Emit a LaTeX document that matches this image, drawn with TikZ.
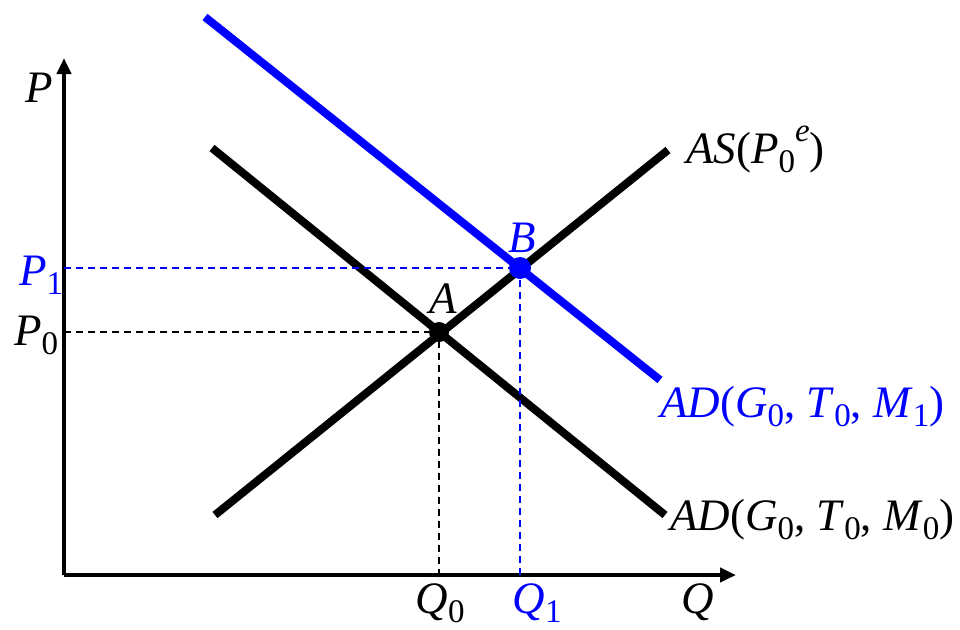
\documentclass[tikz,border=0pt]{standalone}
\usepackage{fontspec}
\setmainfont{Liberation Serif}
\usetikzlibrary{arrows.meta}
\definecolor{shiftblue}{RGB}{0,0,255}
\newcommand{\lowsub}[1]{\raisebox{-9pt}{\fontsize{33}{35}\selectfont #1}}
\newcommand{\highsup}[1]{\raisebox{22pt}{\fontsize{33}{35}\selectfont\textit{#1}}}
\tikzset{
  curve/.style={line width=8pt, line cap=butt},
  axis/.style={line width=4pt, -{Triangle[width=14pt,length=16pt]}},
  guide/.style={line width=1.5pt, dash pattern=on 7pt off 5pt},
  eqpt/.style={circle, fill, inner sep=0pt, minimum size=#1},
  lbl/.style={inner sep=0pt, font=\fontsize{45}{52}\selectfont},
}

\begin{document}
\begin{tikzpicture}[x=1pt, y=-1pt]
  %% ════ 坐标轴 ════
  \coordinate (O) at (64,575);
  \coordinate (ytip) at (64,58);
  \coordinate (xtip) at (736,575);
  \draw[axis] (O) -- (ytip);
  \draw[axis] (O) -- (xtip);
  \node[lbl, anchor=base west] (plab) at (25,102) {\textit{P}};
  \node[lbl, anchor=base west] (qlab) at (681,613) {\textit{Q}};

  %% ════ 三条线 ════
  \coordinate (as0) at (215,515);
  \coordinate (as1) at (668,150);
  \coordinate (ad0a) at (212,148);
  \coordinate (ad0b) at (665,515);
  \coordinate (ad1a) at (205,17);
  \coordinate (ad1b) at (660,380);
  \draw[curve] (as0) -- (as1);
  \draw[curve] (ad0a) -- (ad0b);
  \draw[curve, shiftblue] (ad1a) -- (ad1b);

  %% ════ 均衡点 + 虚线 ════
  \coordinate (p0ax) at (64,332);
  \coordinate (q0ax) at (439,575);
  \coordinate (p1ax) at (64,268);
  \coordinate (q1ax) at (520,575);
  \draw[guide] (p0ax) -- (439,332) -- (q0ax);
  \draw[guide, shiftblue] (p1ax) -- (520,268) -- (q1ax);
  \node[eqpt=20pt] (A) at (439,332) {};
  \node[eqpt=22pt, shiftblue] (B) at (520,268) {};

  %% ════ 标签 ════
  \node[lbl, anchor=base] (alab) at (443,313) {\textit{A}};
  \node[lbl, anchor=base, shiftblue] (blab) at (522,252) {\textit{B}};
  \node[lbl, anchor=base west, shiftblue] (plone) at (19,285) {\textit{P}\lowsub{1}};
  \node[lbl, anchor=base west] (plzero) at (14,345) {\textit{P}\lowsub{0}};
  \node[lbl, anchor=base] (qlzero) at (440,613) {\textit{Q}\lowsub{0}};
  \node[lbl, anchor=base, shiftblue] (qlone) at (537,613) {\textit{Q}\lowsub{1}};
  \node[lbl, anchor=base west] (aslab) at (686,163) {\textit{AS}(\textit{P}\lowsub{0}\highsup{e})};
  \node[lbl, anchor=base west, shiftblue] (adonelab) at (660,417) {\textit{AD}(\textit{G}\lowsub{0}, \textit{T}\lowsub{0}, \textit{M}\lowsub{1})};
  \node[lbl, anchor=base west] (adzerolab) at (670,530) {\textit{AD}(\textit{G}\lowsub{0}, \textit{T}\lowsub{0}, \textit{M}\lowsub{0})};

  \pgfresetboundingbox
  \path[use as bounding box] (0,0) rectangle (960,629);
\end{tikzpicture}
\end{document}
